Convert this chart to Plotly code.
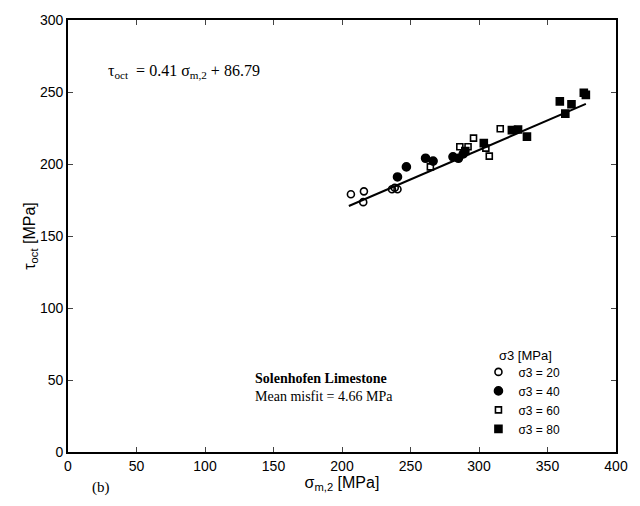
import plotly.graph_objects as go

# Octahedral shear stress vs. mean stress, grouped by confining pressure sigma3
s3_20_x = [206.5, 215.5, 216.0, 236.5, 238.5, 240.5]
s3_20_y = [179.0, 173.5, 181.0, 182.5, 183.5, 182.5]

s3_40_x = [240.5, 247.0, 261.0, 266.5, 281.0, 285.0, 288.5]
s3_40_y = [191.0, 198.0, 204.0, 202.0, 205.0, 204.0, 207.0]

s3_60_x = [264.5, 286.0, 292.0, 296.0, 305.0, 307.5, 315.5]
s3_60_y = [198.0, 212.0, 212.0, 218.0, 211.0, 205.5, 224.5]

s3_80_x = [290.0, 303.5, 324.0, 328.5, 335.0, 359.0, 363.0, 367.5, 376.5, 378.0]
s3_80_y = [209.0, 214.5, 223.5, 224.0, 219.0, 243.5, 235.0, 241.5, 249.5, 248.0]

# Linear fit: tau_oct = slope * sigma_m2 + intercept
slope = 0.41
intercept = 86.79
fit_x = [205.0, 378.0]
fit_y = [slope * v + intercept for v in fit_x]

x_ticks = [0, 50, 100, 150, 200, 250, 300, 350, 400]
y_ticks = [0, 50, 100, 150, 200, 250, 300]

sans = "Liberation Sans, Arial, sans-serif"
serif = "Liberation Serif, Times New Roman, serif"

fig = go.Figure()

fig.add_trace(go.Scatter(
    x=fit_x, y=fit_y, mode="lines",
    line=dict(color="black", width=2), showlegend=False, hoverinfo="skip"))

series = [
    ("σ3 = 20", s3_20_x, s3_20_y, "circle-open", 7),
    ("σ3 = 40", s3_40_x, s3_40_y, "circle", 8),
    ("σ3 = 60", s3_60_x, s3_60_y, "square-open", 6),
    ("σ3 = 80", s3_80_x, s3_80_y, "square", 7),
]
for name, xs, ys, sym, sz in series:
    fig.add_trace(go.Scatter(
        x=xs, y=ys, mode="markers", name=name,
        marker=dict(symbol=sym, size=sz, color="black",
                    line=dict(color="black", width=1.6))))

fig.update_layout(
    width=640, height=506,
    margin=dict(l=68, r=24, t=13, b=54),
    paper_bgcolor="white", plot_bgcolor="white",
    font=dict(family=sans, size=14, color="black"),
    legend=dict(
        x=0.749, y=0.219, xanchor="left", yanchor="top",
        font=dict(family=sans, size=12),
        bgcolor="rgba(0,0,0,0)", tracegroupgap=0, itemwidth=30),
    xaxis=dict(
        range=[0, 400], tickvals=x_ticks, ticks="inside", ticklen=5,
        showline=True, linecolor="black", linewidth=1.6, mirror="ticks",
        showgrid=False, zeroline=False, tickfont=dict(size=14),
        title=dict(text="σ<sub>m,2</sub> [MPa]", font=dict(size=16), standoff=2)),
    yaxis=dict(
        range=[0, 300], tickvals=y_ticks, ticks="inside", ticklen=5,
        showline=True, linecolor="black", linewidth=1.6, mirror="ticks",
        showgrid=False, zeroline=False, tickfont=dict(size=14),
        title=dict(text="τ<sub>oct</sub> [MPa]", font=dict(size=16), standoff=0)),
    annotations=[
        dict(xref="paper", yref="paper", x=0.07, y=0.88, xanchor="left",
             yanchor="middle", showarrow=False,
             text=f"τ<sub>oct</sub>  = {slope} σ<sub>m,2</sub> + {intercept}",
             font=dict(family=serif, size=16)),
        dict(xref="paper", yref="paper", x=0.782, y=0.223, xanchor="left",
             yanchor="middle", showarrow=False, text="σ3 [MPa]",
             font=dict(family=sans, size=13)),
        dict(xref="paper", yref="paper", x=0.337, y=0.17, xanchor="left",
             yanchor="middle", showarrow=False,
             text="<b>Solenhofen Limestone</b>",
             font=dict(family=serif, size=14)),
        dict(xref="paper", yref="paper", x=0.337, y=0.128, xanchor="left",
             yanchor="middle", showarrow=False,
             text="Mean misfit = 4.66 MPa",
             font=dict(family=serif, size=14)),
        dict(xref="paper", yref="paper", x=0.06, y=-0.083, xanchor="center",
             yanchor="middle", showarrow=False, text="(b)",
             font=dict(family=serif, size=15)),
    ],
)

fig.write_html("out.html")
